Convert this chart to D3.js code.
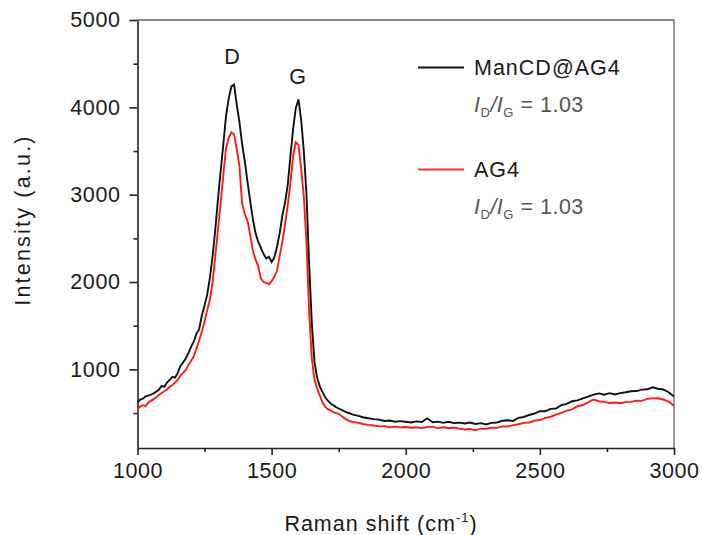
<!DOCTYPE html>
<html>
<head>
<meta charset="utf-8">
<script src="https://cdn.jsdelivr.net/npm/d3@7"></script>
<style>
  body { margin: 0; background: #fff; }
  svg { font-family: "Liberation Sans", Arial, sans-serif; }
</style>
</head>
<body>
<div id="chart"></div>
<script>
// Raman shift positions (cm-1)
var shift = [1000,1010,1020,1030,1040,1050,1060,1070,1080,1090,
  1100,1110,1120,1130,1140,1150,1160,1170,1180,1190,
  1200,1210,1220,1230,1240,1250,1260,1270,1280,1290,
  1300,1310,1320,1330,1340,1350,1360,1370,1380,1390,
  1400,1410,1420,1430,1440,1450,1460,1470,1480,1490,
  1500,1510,1520,1530,1540,1550,1560,1570,1580,1590,
  1600,1610,1620,1630,1640,1650,1660,1670,1680,1690,
  1700,1710,1720,1730,1740,1750,1760,1770,1780,1790,
  1800,1820,1840,1860,1880,1900,1920,1940,1960,1980,
  2000,2020,2040,2060,2080,2100,2120,2140,2160,2180,
  2200,2220,2240,2260,2280,2300,2320,2340,2360,2380,
  2400,2420,2440,2460,2480,2500,2520,2540,2560,2580,
  2600,2620,2640,2660,2680,2700,2720,2740,2760,2780,
  2800,2820,2840,2860,2880,2900,2920,2940,2960,2980,3000];

var mancd = [620,655,665,690,700,712,725,745,770,810,
  800,850,880,915,905,960,1040,1080,1125,1190,
  1260,1320,1410,1460,1620,1730,1860,2050,2300,2600,
  2950,3270,3580,3900,4100,4240,4260,4030,3830,3580,
  3380,3150,2930,2720,2560,2460,2390,2320,2270,2290,
  2230,2280,2400,2560,2760,2910,3110,3440,3750,3990,
  4090,3860,3500,3000,2200,1520,1080,900,800,740,
  680,640,610,590,568,552,538,522,508,498,
  485,470,452,440,430,425,410,415,400,408,
  400,392,405,398,440,395,402,388,400,385,
  390,380,392,375,385,370,388,392,412,418,
  410,445,455,478,495,522,520,548,552,592,
  605,635,645,668,688,712,725,710,728,712,
  728,738,750,752,768,772,795,778,770,738,690];

var ag4 = [540,575,590,580,620,640,660,680,710,730,
  750,770,800,820,850,880,930,960,990,1050,
  1100,1150,1240,1330,1430,1550,1680,1800,2000,2300,
  2600,2900,3230,3530,3650,3715,3690,3520,3330,2900,
  2780,2700,2540,2360,2260,2180,2040,2000,1990,1975,
  2010,2060,2130,2300,2460,2660,2880,3130,3440,3600,
  3570,3300,2980,2450,1650,1120,880,780,700,620,
  570,545,530,510,500,490,470,445,425,410,
  400,390,375,365,358,348,350,338,345,336,
  340,332,338,328,340,345,328,338,326,335,
  322,312,318,302,322,320,332,330,348,346,
  362,372,388,392,412,422,442,458,482,502,
  528,542,578,592,622,655,635,628,615,620,
  612,625,628,642,640,662,668,670,655,632,585];

var xTicks = [1000, 1500, 2000, 2500, 3000];
var yTicks = [1000, 2000, 3000, 4000, 5000];
var xMinor = [1250, 1750, 2250, 2750];
var yMinor = [500, 1500, 2500, 3500, 4500];
var ratioText = "1.03";

var width = 702, height = 535;
var mLeft = 137.5, mRight = 674, mTop = 20, mBottom = 448;

var svg = d3.select("#chart").append("svg")
  .attr("width", width)
  .attr("height", height);

var x = d3.scaleLinear().domain([1000, 3000]).range([mLeft, mRight]);
var y = d3.scaleLinear().domain([100, 5000]).range([mBottom, mTop]);

// frame (top + right)
svg.append("path")
  .attr("d", "M" + mLeft + "," + mTop + "H" + mRight + "V" + mBottom)
  .attr("fill", "none")
  .attr("stroke", "#666")
  .attr("stroke-width", 1.3);

svg.append("g")
  .attr("transform", "translate(0," + mBottom + ")")
  .call(d3.axisBottom(x).tickValues(xTicks).tickFormat(d3.format("d"))
    .tickSize(7).tickPadding(8).tickSizeOuter(0));
svg.append("g")
  .attr("transform", "translate(0," + mBottom + ")")
  .call(d3.axisBottom(x).tickValues(xMinor).tickSize(4).tickFormat("").tickSizeOuter(0))
  .select(".domain").remove();

svg.append("g")
  .attr("transform", "translate(" + mLeft + ",0)")
  .call(d3.axisLeft(y).tickValues(yTicks).tickFormat(d3.format("d"))
    .tickSize(8).tickPadding(9).tickSizeOuter(0));
svg.append("g")
  .attr("transform", "translate(" + mLeft + ",0)")
  .call(d3.axisLeft(y).tickValues(yMinor).tickSize(4).tickFormat("").tickSizeOuter(0))
  .select(".domain").remove();

svg.selectAll(".domain, .tick line")
  .attr("stroke", "#222")
  .attr("stroke-width", 1.6);

svg.selectAll(".tick text")
  .attr("fill", "#1a1a1a")
  .style("font-size", "21.5px")
  .style("letter-spacing", "0.6px");

// axis titles
svg.append("text")
  .attr("x", 381).attr("y", 531)
  .attr("text-anchor", "middle")
  .style("font-size", "21.5px")
  .style("letter-spacing", "1px")
  .attr("fill", "#1a1a1a")
  .html('Raman shift (cm<tspan dy="-9" font-size="13">-1</tspan><tspan dy="9">)</tspan>');

svg.append("text")
  .attr("transform", "translate(30,220) rotate(-90)")
  .attr("text-anchor", "middle")
  .style("font-size", "21.5px")
  .style("letter-spacing", "2.2px")
  .attr("fill", "#1a1a1a")
  .text("Intensity (a.u.)");

// spectra
var line = d3.line()
  .x(function(d, i) { return x(shift[i]); })
  .y(function(d) { return y(d); });

svg.append("path")
  .datum(ag4)
  .attr("d", line)
  .attr("fill", "none")
  .attr("stroke", "#ff1a1a")
  .attr("stroke-width", 1.9);

svg.append("path")
  .datum(mancd)
  .attr("d", line)
  .attr("fill", "none")
  .attr("stroke", "#111")
  .attr("stroke-width", 1.9);

// peak labels
svg.append("text").attr("x", 232).attr("y", 64).attr("text-anchor", "middle")
  .style("font-size", "21.5px").attr("fill", "#1a1a1a").text("D");
svg.append("text").attr("x", 297.5).attr("y", 84).attr("text-anchor", "middle")
  .style("font-size", "21.5px").attr("fill", "#1a1a1a").text("G");

// legend
var legend = [
  {name: "ManCD@AG4", color: "#111", y: 67.5},
  {name: "AG4", color: "#ff3030", y: 169.5}
];

legend.forEach(function(d) {
  svg.append("line")
    .attr("x1", 418).attr("x2", 464)
    .attr("y1", d.y).attr("y2", d.y)
    .attr("stroke", d.color)
    .attr("stroke-width", 1.8);
  svg.append("text")
    .attr("x", 474).attr("y", d.y + 7.5)
    .style("font-size", "21.5px")
    .style("letter-spacing", "1px")
    .attr("fill", "#1a1a1a")
    .text(d.name);
  svg.append("text")
    .attr("x", 474).attr("y", d.y + 44)
    .style("font-size", "21.5px")
    .style("letter-spacing", "0.5px")
    .attr("fill", "#555")
    .html('<tspan font-style="italic">I</tspan><tspan font-size="13" dy="5">D</tspan>' +
      '<tspan dy="-5" font-style="italic">/I</tspan><tspan font-size="13" dy="5">G</tspan>' +
      '<tspan dy="-5"> = ' + ratioText + '</tspan>');
});
</script>
</body>
</html>
